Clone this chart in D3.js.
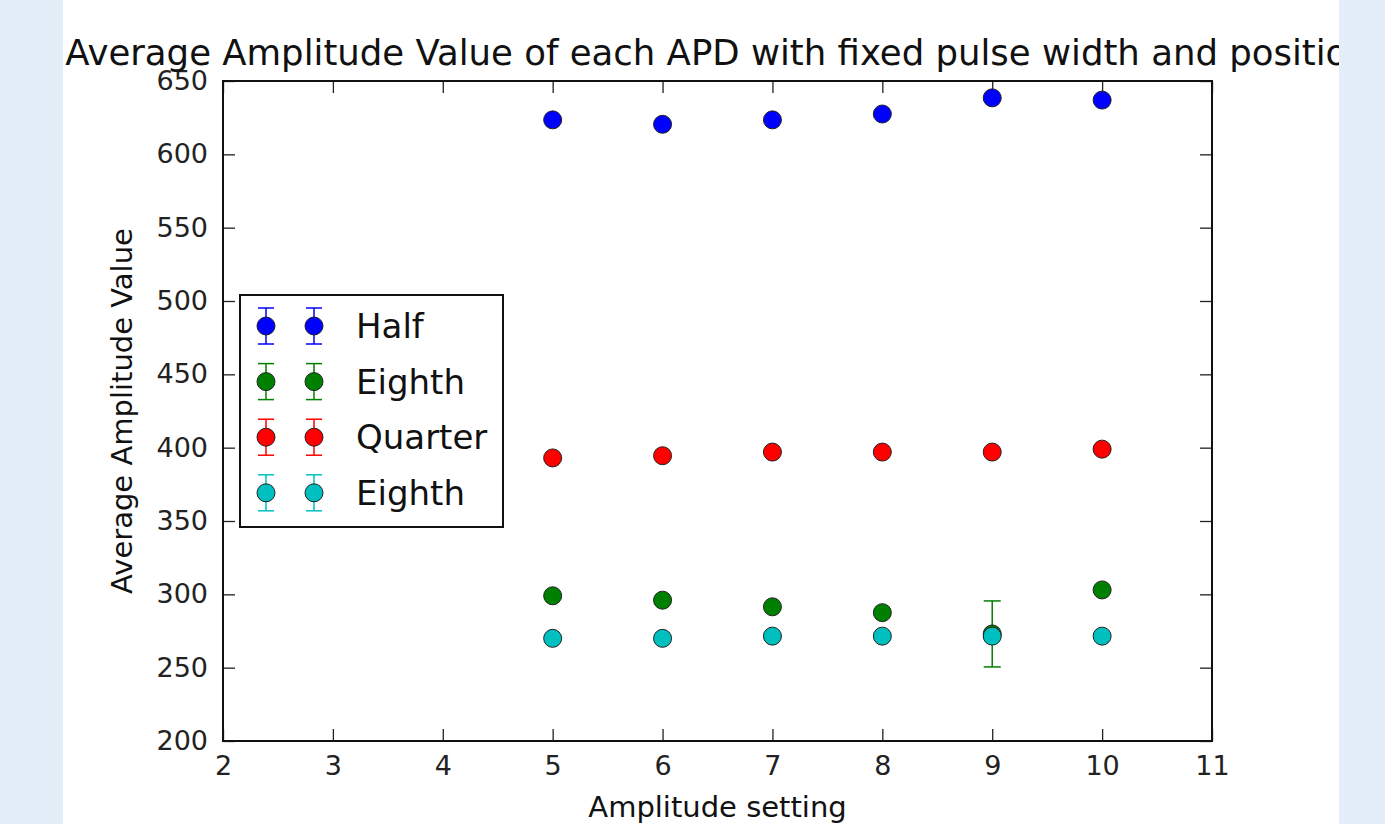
<!DOCTYPE html>
<html>
<head>
<meta charset="utf-8">
<script src="https://cdn.jsdelivr.net/npm/d3@7"></script>
<style>
  body { margin: 0; background: #e4eef8; }
  svg { display: block; font-family: "DejaVu Sans", sans-serif; }
</style>
</head>
<body>
<div id="chart"></div>
<script>
// data
const settings = [5, 6, 7, 8, 9, 10];
const halfVals = [623.5, 620.5, 623.5, 627.5, 638.5, 637];
const halfErr = [1.5, 1.5, 1.5, 1.5, 1.5, 1.5];
const eighthAVals = [299, 296, 291.5, 287.5, 273, 303];
const eighthAErr = [1.5, 1.5, 1.5, 1.5, 22.5, 1.5];
const quarterVals = [393, 394.5, 397, 397, 397, 399];
const quarterErr = [1.5, 1.5, 1.5, 1.5, 1.5, 1.5];
const eighthBVals = [270, 270, 271.5, 271.5, 271.5, 271.5];
const eighthBErr = [1.5, 1.5, 1.5, 1.5, 1.5, 1.5];
const xTicks = [2, 3, 4, 5, 6, 7, 8, 9, 10, 11];
const yTicks = [200, 250, 300, 350, 400, 450, 500, 550, 600, 650];

const series = [
  {name: "Half", color: "#0000ff", vals: halfVals, err: halfErr},
  {name: "Eighth", color: "#008000", vals: eighthAVals, err: eighthAErr},
  {name: "Quarter", color: "#ff0000", vals: quarterVals, err: quarterErr},
  {name: "Eighth", color: "#00bfbf", vals: eighthBVals, err: eighthBErr}
];

const width = 1385, height = 824;
const plotL = 223, plotR = 1212, plotT = 81, plotB = 741;

const svg = d3.select("#chart").append("svg")
    .attr("width", width)
    .attr("height", height);

svg.append("rect").attr("width", width).attr("height", height).attr("fill", "#e4eef8");
svg.append("rect").attr("x", 63).attr("y", 0).attr("width", 1276).attr("height", height).attr("fill", "#ffffff");

svg.append("clipPath").attr("id", "figclip")
  .append("rect").attr("x", 63).attr("y", 0).attr("width", 1276).attr("height", height);

const x = d3.scaleLinear().domain([2, 11]).range([plotL, plotR]);
const y = d3.scaleLinear().domain([200, 650]).range([plotB, plotT]);

const tickLen = 12;

// axes (ticks point inward, on all four sides)
svg.append("g")
    .attr("transform", `translate(0,${plotB})`)
    .call(d3.axisBottom(x).tickValues(xTicks).tickSizeInner(-tickLen).tickSizeOuter(0).tickPadding(15))
    .call(g => g.select(".domain").remove())
    .call(g => g.selectAll("text").attr("font-size", 27).attr("fill", "#222").attr("font-family", "DejaVu Sans"));

svg.append("g")
    .attr("transform", `translate(0,${plotT})`)
    .call(d3.axisTop(x).tickValues(xTicks).tickSizeInner(-tickLen).tickSizeOuter(0).tickFormat(""))
    .call(g => g.select(".domain").remove());

svg.append("g")
    .attr("transform", `translate(${plotL},0)`)
    .call(d3.axisLeft(y).tickValues(yTicks).tickSizeInner(-tickLen).tickSizeOuter(0).tickPadding(15))
    .call(g => g.select(".domain").remove())
    .call(g => g.selectAll("text").attr("font-size", 27).attr("fill", "#222").attr("font-family", "DejaVu Sans"));

svg.append("g")
    .attr("transform", `translate(${plotR},0)`)
    .call(d3.axisRight(y).tickValues(yTicks).tickSizeInner(-tickLen).tickSizeOuter(0).tickFormat(""))
    .call(g => g.select(".domain").remove());

svg.selectAll(".tick line").attr("stroke", "#222").attr("stroke-width", 1.3);

svg.append("rect")
    .attr("x", plotL).attr("y", plotT)
    .attr("width", plotR - plotL).attr("height", plotB - plotT)
    .attr("fill", "none").attr("stroke", "#111").attr("stroke-width", 2);

// error bars and markers
const capW = 8.5, r = 9;
series.forEach(s => {
  const pts = settings.map((d, i) => ({x: d, v: s.vals[i], e: s.err[i]}));
  const g = svg.append("g");
  const eb = g.selectAll(".eb").data(pts).enter().append("g").attr("stroke", s.color).attr("stroke-width", 1.5);
  eb.append("line")
      .attr("x1", d => x(d.x)).attr("x2", d => x(d.x))
      .attr("y1", d => y(d.v - d.e)).attr("y2", d => y(d.v + d.e));
  eb.append("line")
      .attr("x1", d => x(d.x) - capW).attr("x2", d => x(d.x) + capW)
      .attr("y1", d => y(d.v + d.e)).attr("y2", d => y(d.v + d.e));
  eb.append("line")
      .attr("x1", d => x(d.x) - capW).attr("x2", d => x(d.x) + capW)
      .attr("y1", d => y(d.v - d.e)).attr("y2", d => y(d.v - d.e));
  g.selectAll("circle").data(pts).enter().append("circle")
      .attr("cx", d => x(d.x)).attr("cy", d => y(d.v))
      .attr("r", r)
      .attr("fill", s.color)
      .attr("stroke", "#222").attr("stroke-width", 1);
});

// legend
const legend = svg.append("g");
legend.append("rect")
    .attr("x", 240).attr("y", 295).attr("width", 263).attr("height", 232)
    .attr("fill", "#fff").attr("stroke", "#111").attr("stroke-width", 2);
series.forEach((s, i) => {
  const cy = 326 + i * 55.6;
  [266, 314].forEach(cx => {
    const lg = legend.append("g").attr("stroke", s.color).attr("stroke-width", 1.5);
    lg.append("line").attr("x1", cx).attr("x2", cx).attr("y1", cy - 18).attr("y2", cy + 18);
    lg.append("line").attr("x1", cx - 8).attr("x2", cx + 8).attr("y1", cy - 18).attr("y2", cy - 18);
    lg.append("line").attr("x1", cx - 8).attr("x2", cx + 8).attr("y1", cy + 18).attr("y2", cy + 18);
    legend.append("circle").attr("cx", cx).attr("cy", cy).attr("r", r)
        .attr("fill", s.color).attr("stroke", "#222").attr("stroke-width", 1);
  });
  legend.append("text")
      .attr("x", 356).attr("y", cy + 12)
      .attr("font-size", 34).attr("fill", "#111")
      .text(s.name);
});

// labels
svg.append("text")
    .attr("clip-path", "url(#figclip)")
    .attr("x", (plotL + plotR) / 2).attr("y", 65)
    .attr("text-anchor", "middle")
    .attr("font-size", 35.5).attr("fill", "#111")
    .text("Average Amplitude Value of each APD with fixed pulse width and position");

svg.append("text")
    .attr("x", (plotL + plotR) / 2).attr("y", 817)
    .attr("text-anchor", "middle")
    .attr("font-size", 29).attr("fill", "#111")
    .text("Amplitude setting");

svg.append("text")
    .attr("transform", `translate(132,${(plotT + plotB) / 2}) rotate(-90)`)
    .attr("text-anchor", "middle")
    .attr("font-size", 29).attr("fill", "#111")
    .text("Average Amplitude Value");
</script>
</body>
</html>
